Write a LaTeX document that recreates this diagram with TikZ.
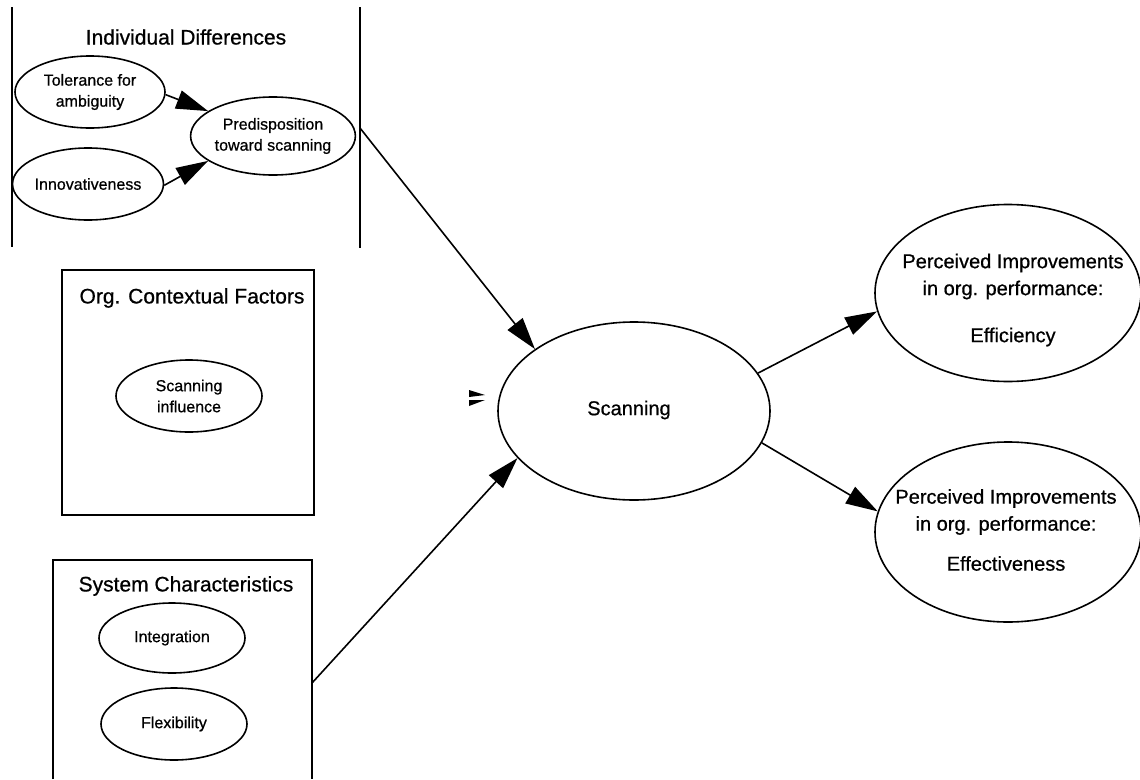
\documentclass[tikz,border=0pt]{standalone}
\usepackage{fontspec}
\setmainfont{Liberation Sans}[FakeBold=0.7]
\usetikzlibrary{arrows.meta,shapes.geometric}
\begin{document}
\begin{tikzpicture}[x=1pt,y=-1pt,
  line width=1.6pt,
  oval/.style={draw,ellipse,inner sep=0pt,align=center,font=\fontsize{16}{21}\selectfont},
  bigoval/.style={draw,ellipse,inner sep=0pt,align=center,font=\fontsize{20}{27}\selectfont},
  bigtext/.style={inner sep=0pt,align=center,font=\fontsize{20}{27}\selectfont},
  title/.style={font=\fontsize{21}{25}\selectfont,inner sep=0pt},
  arr/.style={-{Triangle[length=32pt,width=19pt]}},
  boxline/.style={draw,line width=1.6pt}]
\useasboundingbox (0,0) rectangle (1140,779);
% Individual Differences (two side lines)
\coordinate (idlt) at (12,7); \coordinate (idlb) at (12,247);
\coordinate (idrt) at (360,7); \coordinate (idrb) at (360,248);
\draw[boxline] (idlt) -- (idlb);
\draw[boxline] (idrt) -- (idrb);
\node[title] (idt) at (186,37) {Individual Differences};
\node[oval,minimum width=150pt,minimum height=72pt] (tol) at (90,92) {Tolerance for\\ambiguity};
\node[oval,minimum width=146pt,minimum height=72pt] (inn) at (88,184) {Innovativeness};
\node[oval,minimum width=148pt,minimum height=78pt] (pred) at (273,136) {Predisposition\\toward scanning};
\draw[arr] (tol.358) -- (pred.159);
\draw[arr] (inn.359) -- (pred.201);
% Org. contextual factors
\node[draw,line width=1.6pt,minimum width=252pt,minimum height=245pt,inner sep=0pt] (orgbox) at (188,392.5) {};
\node[title] (orgt) at (192,298) {Org. Contextual Factors};
\node[oval,minimum width=146pt,minimum height=72pt] (sinf) at (189,396) {Scanning\\influence};
% System characteristics
\coordinate (sysbl) at (53,779); \coordinate (systl) at (53,560);
\coordinate (systr) at (312,560); \coordinate (sysbr) at (312,779);
\draw[boxline] (sysbl) -- (systl) -- (systr) -- (sysbr);
\node[title] (syst) at (186,586) {System Characteristics};
\node[oval,minimum width=146pt,minimum height=70pt] (integ) at (172,638) {Integration};
\node[oval,minimum width=146pt,minimum height=72pt] (flex) at (174,724) {Flexibility};
% Scanning
\node[bigoval,minimum width=272pt,minimum height=178pt] (scan) at (634,411) {};
\node[bigtext] (scant) at (629,410) {Scanning};
% Outcomes
\node[bigoval,minimum width=266pt,minimum height=177pt] (eff) at (1008,293) {};
\node[bigtext] (efft) at (1013,300) {Perceived Improvements\\in org. performance:\\[20pt]Efficiency};
\node[bigoval,minimum width=266pt,minimum height=180pt] (effv) at (1008,532) {};
\node[bigtext] (effvt) at (1006,530) {Perceived Improvements\\in org. performance:\\[13pt]Effectiveness};
% connectors
\coordinate (idout) at (360,128);
\coordinate (sysout) at (312,683);
\draw[arr] (idout) -- (scan.148);
\draw[arr] (sysout) -- (scan.202);
\draw[arr] (scan.17) -- (eff.188);
\draw[arr] (scan.346) -- (effv.171);
% small wedge marks left of Scanning
\fill (469,390) -- (485,395) -- (469,397) -- cycle;
\fill (469,400) -- (485,400) -- (469,406) -- cycle;
\end{tikzpicture}
\end{document}
